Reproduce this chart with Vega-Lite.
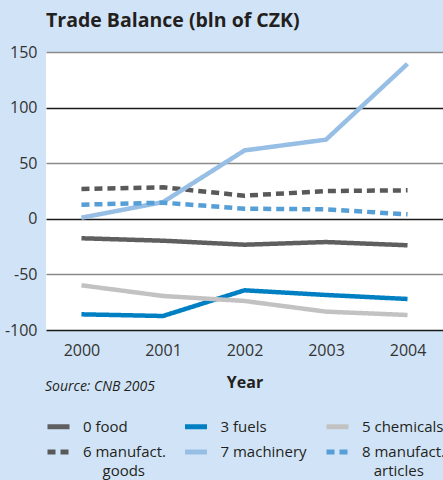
{
  "$schema": "https://vega.github.io/schema/vega-lite/v6.json",
  "width": 397,
  "height": 278,
  "autosize": {"type": "none"},
  "padding": {"left": 46, "top": 52, "right": 0, "bottom": 150},
  "background": "#d1e4f7",
  "title": {
    "text": "Trade Balance (bln of CZK)",
    "anchor": "start",
    "frame": "group",
    "font": "Open Sans",
    "fontSize": 19.5,
    "fontWeight": "bold",
    "color": "#231f20",
    "offset": 13
  },
  "config": {
    "view": {"fill": "white", "stroke": null},
    "font": "Open Sans"
  },
  "data": {
    "values": [
      {"year": "2000", "series": "0 food", "value": -17.5},
      {"year": "2001", "series": "0 food", "value": -19.7},
      {"year": "2002", "series": "0 food", "value": -23.3},
      {"year": "2003", "series": "0 food", "value": -20.9},
      {"year": "2004", "series": "0 food", "value": -23.8},
      {"year": "2000", "series": "3 fuels", "value": -85.9},
      {"year": "2001", "series": "3 fuels", "value": -87.4},
      {"year": "2002", "series": "3 fuels", "value": -64.3},
      {"year": "2003", "series": "3 fuels", "value": -68.5},
      {"year": "2004", "series": "3 fuels", "value": -72.1},
      {"year": "2000", "series": "5 chemicals", "value": -59.8},
      {"year": "2001", "series": "5 chemicals", "value": -69.4},
      {"year": "2002", "series": "5 chemicals", "value": -73.9},
      {"year": "2003", "series": "5 chemicals", "value": -83.5},
      {"year": "2004", "series": "5 chemicals", "value": -86.5},
      {"year": "2000", "series": "6 manufact. goods", "value": 26.8},
      {"year": "2001", "series": "6 manufact. goods", "value": 28.3},
      {"year": "2002", "series": "6 manufact. goods", "value": 20.8},
      {"year": "2003", "series": "6 manufact. goods", "value": 25.0},
      {"year": "2004", "series": "6 manufact. goods", "value": 25.6},
      {"year": "2000", "series": "7 machinery", "value": 1.0},
      {"year": "2001", "series": "7 machinery", "value": 15.0},
      {"year": "2002", "series": "7 machinery", "value": 61.5},
      {"year": "2003", "series": "7 machinery", "value": 71.2},
      {"year": "2004", "series": "7 machinery", "value": 139.4},
      {"year": "2000", "series": "8 manufact. articles", "value": 12.7},
      {"year": "2001", "series": "8 manufact. articles", "value": 14.5},
      {"year": "2002", "series": "8 manufact. articles", "value": 9.1},
      {"year": "2003", "series": "8 manufact. articles", "value": 8.5},
      {"year": "2004", "series": "8 manufact. articles", "value": 4.0}
    ]
  },
  "mark": {"type": "line", "strokeWidth": 4.5, "strokeCap": "butt"},
  "encoding": {
    "x": {
      "field": "year",
      "type": "ordinal",
      "scale": {"type": "point", "padding": 0.435},
      "axis": {
        "title": "Year",
        "labelAngle": 0,
        "ticks": false,
        "domain": false,
        "grid": false,
        "labelFontSize": 16,
        "labelColor": "#333333",
        "labelPadding": 12,
        "titleFontSize": 16,
        "titleFontWeight": "bold",
        "titleColor": "#231f20",
        "titlePadding": 16
      }
    },
    "y": {
      "field": "value",
      "type": "quantitative",
      "scale": {"domain": [-100, 150], "nice": false},
      "axis": {
        "title": null,
        "values": [-100, -50, 0, 50, 100, 150],
        "labelExpr": "'' + datum.value",
        "ticks": false,
        "domain": false,
        "labelFontSize": 16,
        "labelColor": "#333333",
        "labelPadding": 9,
        "gridColor": {"condition": {"test": "datum.value % 100 === 0", "value": "#1a1a1a"}, "value": "#8a8a8a"},
        "gridWidth": {"condition": {"test": "datum.value % 100 === 0", "value": 1.3}, "value": 1.6}
      }
    },
    "color": {
      "field": "series",
      "type": "nominal",
      "scale": {
        "domain": ["0 food", "3 fuels", "5 chemicals", "6 manufact. goods", "7 machinery", "8 manufact. articles"],
        "range": ["#5f5f5f", "#0080c3", "#c2c2c2", "#595959", "#97bfe6", "#559ed6"]
      },
      "legend": {
        "orient": "none",
        "direction": "horizontal",
        "legendX": -1,
        "legendY": 328,
        "columns": 3,
        "gridAlign": "each",
        "padding": 0,
        "title": "Source: CNB 2005",
        "titleFontStyle": "italic",
        "titleFontWeight": "normal",
        "titleFontSize": 14,
        "titleColor": "#231f20",
        "titlePadding": 19,
        "symbolType": "stroke",
        "symbolSize": 484,
        "symbolStrokeWidth": 5,
        "labelFontSize": 15,
        "labelColor": "#231f20",
        "labelOffset": 11,
        "labelLimit": 300,
        "columnPadding": 8.5,
        "rowPadding": 1.6,
        "labelExpr": "datum.label == '6 manufact. goods' ? ['6 manufact.', '\u200b\u00a0\u00a0\u00a0\u00a0\u00a0goods'] : datum.label == '8 manufact. articles' ? ['8 manufact.', '\u200b\u00a0\u00a0\u00a0articles'] : datum.label",
        "encode": {"labels": {"update": {"lineHeight": {"value": 19}}}}
      }
    },
    "strokeDash": {
      "field": "series",
      "type": "nominal",
      "scale": {
        "domain": ["0 food", "3 fuels", "5 chemicals", "6 manufact. goods", "7 machinery", "8 manufact. articles"],
        "range": [[1, 0], [1, 0], [1, 0], [8, 5], [1, 0], [8, 5]]
      },
      "legend": {
        "orient": "none",
        "direction": "horizontal",
        "legendX": -1,
        "legendY": 328,
        "columns": 3,
        "gridAlign": "each",
        "padding": 0,
        "title": "Source: CNB 2005",
        "titleFontStyle": "italic",
        "titleFontWeight": "normal",
        "titleFontSize": 14,
        "titleColor": "#231f20",
        "titlePadding": 19,
        "symbolType": "stroke",
        "symbolSize": 484,
        "symbolStrokeWidth": 5,
        "labelFontSize": 15,
        "labelColor": "#231f20",
        "labelOffset": 11,
        "labelLimit": 300,
        "columnPadding": 8.5,
        "rowPadding": 1.6,
        "labelExpr": "datum.label == '6 manufact. goods' ? ['6 manufact.', '\u200b\u00a0\u00a0\u00a0\u00a0\u00a0goods'] : datum.label == '8 manufact. articles' ? ['8 manufact.', '\u200b\u00a0\u00a0\u00a0articles'] : datum.label",
        "encode": {"labels": {"update": {"lineHeight": {"value": 19}}}}
      }
    }
  }
}
